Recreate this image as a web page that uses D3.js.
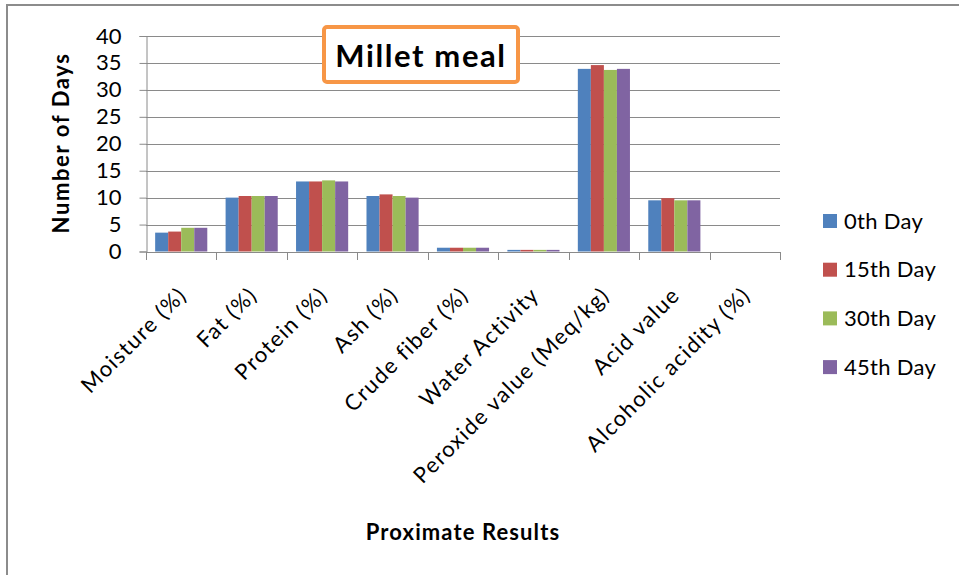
<!DOCTYPE html>
<html>
<head>
<meta charset="utf-8">
<script src="https://cdn.jsdelivr.net/npm/d3@7"></script>
<style>
  html, body { margin: 0; padding: 0; background: #fff; }
  svg { display: block; font-family: Lato, "Open Sans", sans-serif; }
</style>
</head>
<body>
<svg id="chart" width="959" height="575"></svg>
<script>
// Proximate composition of millet meal over storage time
const categories = [
  "Moisture (%)", "Fat (%)", "Protein (%)", "Ash (%)", "Crude fiber (%)",
  "Water Activity", "Peroxide value (Meq/kg)", "Acid value", "Alcoholic acidity (%)"
];
const seriesNames = ["0th Day", "15th Day", "30th Day", "45th Day"];
const day0  = [3.5, 10.0, 13.0, 10.3, 0.7, 0.3, 33.9, 9.5, 0];
const day15 = [3.7, 10.3, 13.0, 10.6, 0.7, 0.3, 34.6, 9.9, 0];
const day30 = [4.4, 10.3, 13.2, 10.3, 0.7, 0.3, 33.7, 9.5, 0];
const day45 = [4.4, 10.3, 13.0, 10.0, 0.7, 0.3, 33.9, 9.5, 0];
const yTicks = [0, 5, 10, 15, 20, 25, 30, 35, 40];
const colors = ["#4f81bd", "#c0504d", "#9bbb59", "#8064a2"];

const series = [day0, day15, day30, day45];
const rows = categories.map((c, i) => ({
  category: c,
  values: series.map((s, j) => ({ key: seriesNames[j], value: s[i] }))
}));

const svg = d3.select("#chart");
const gridColor = "#8a8a8a";

// outer chart frame
svg.append("rect")
  .attr("x", 7).attr("y", 5).attr("width", 1000).attr("height", 620)
  .attr("fill", "none").attr("stroke", "#8c8c8c").attr("stroke-width", 2);

const plot = { left: 146, right: 780, top: 36, bottom: 251.5 };

const x = d3.scaleBand().domain(categories).range([plot.left, plot.right]).padding(0);
const xInner = d3.scaleBand().domain(seriesNames)
  .range([x.bandwidth() * 0.13, x.bandwidth() * 0.87]).padding(0);
const y = d3.scaleLinear().domain([0, 40]).range([plot.bottom, plot.top]);

// horizontal gridlines
svg.append("g").selectAll("line").data(yTicks.filter(t => t > 0)).join("line")
  .attr("x1", plot.left).attr("x2", plot.right)
  .attr("y1", d => Math.round(y(d)) + 0.5).attr("y2", d => Math.round(y(d)) + 0.5)
  .attr("stroke", gridColor).attr("stroke-width", 1);

// y axis
const yAxis = svg.append("g")
  .attr("transform", `translate(${plot.left + 0.5},0)`)
  .call(d3.axisLeft(y).tickValues(yTicks).tickSize(7).tickPadding(18));
yAxis.select(".domain").attr("stroke", gridColor);
yAxis.selectAll(".tick line").attr("stroke", gridColor);
yAxis.selectAll(".tick text")
  .attr("fill", "#000").style("font-size", "22px").style("font-family", "Lato, sans-serif");

// bars
const groups = svg.append("g").selectAll("g").data(rows).join("g")
  .attr("transform", d => `translate(${x(d.category)},0)`);
groups.selectAll("rect").data(d => d.values).join("rect")
  .attr("x", d => xInner(d.key))
  .attr("width", xInner.bandwidth())
  .attr("y", d => y(d.value))
  .attr("height", d => y(0) - y(d.value))
  .attr("fill", (d, i) => colors[i]);

// x axis with ticks on category boundaries
const xAxisG = svg.append("g");
xAxisG.append("line")
  .attr("x1", plot.left).attr("x2", plot.right)
  .attr("y1", Math.round(plot.bottom) + 0.5).attr("y2", Math.round(plot.bottom) + 0.5)
  .attr("stroke", gridColor);
const bounds = categories.map(c => x(c)).concat([plot.right]);
xAxisG.selectAll("line.tick").data(bounds).join("line")
  .attr("class", "tick")
  .attr("x1", d => Math.round(d) + 0.5).attr("x2", d => Math.round(d) + 0.5)
  .attr("y1", Math.round(plot.bottom)).attr("y2", Math.round(plot.bottom) + 8)
  .attr("stroke", gridColor);

// rotated category labels
xAxisG.selectAll("text").data(categories).join("text")
  .attr("transform", d => `translate(${x(d) + x.bandwidth() / 2 + 7},${plot.bottom + 45}) rotate(-45)`)
  .attr("text-anchor", "end")
  .style("font-size", "22px").style("letter-spacing", "1.4px")
  .attr("fill", "#000")
  .text(d => d);

// axis titles
svg.append("text")
  .attr("transform", `translate(69,143) rotate(-90)`)
  .attr("text-anchor", "middle")
  .style("font-size", "22px").style("font-weight", "bold").style("letter-spacing", "1.6px")
  .text("Number of Days");

svg.append("text")
  .attr("x", 463).attr("y", 540)
  .attr("text-anchor", "middle")
  .style("font-size", "22px").style("font-weight", "bold").style("letter-spacing", "1.1px")
  .text("Proximate Results");

// chart title in an orange box
svg.append("rect")
  .attr("x", 324).attr("y", 27).attr("width", 194).attr("height", 55).attr("rx", 3)
  .attr("fill", "#fff").attr("stroke", "#f79646").attr("stroke-width", 4);
svg.append("text")
  .attr("x", 421).attr("y", 67)
  .attr("text-anchor", "middle")
  .style("font-size", "31px").style("font-weight", "bold").style("letter-spacing", "1.6px")
  .text("Millet meal");

// legend
const legend = svg.append("g").selectAll("g").data(seriesNames).join("g")
  .attr("transform", (d, i) => `translate(823,${221 + i * 48.7})`);
legend.append("rect")
  .attr("x", 0).attr("y", -7).attr("width", 14).attr("height", 14)
  .attr("fill", (d, i) => colors[i]);
legend.append("text")
  .attr("x", 21).attr("y", 0).attr("dy", "0.35em")
  .style("font-size", "22px").style("letter-spacing", "0.3px")
  .text(d => d);
</script>
</body>
</html>
